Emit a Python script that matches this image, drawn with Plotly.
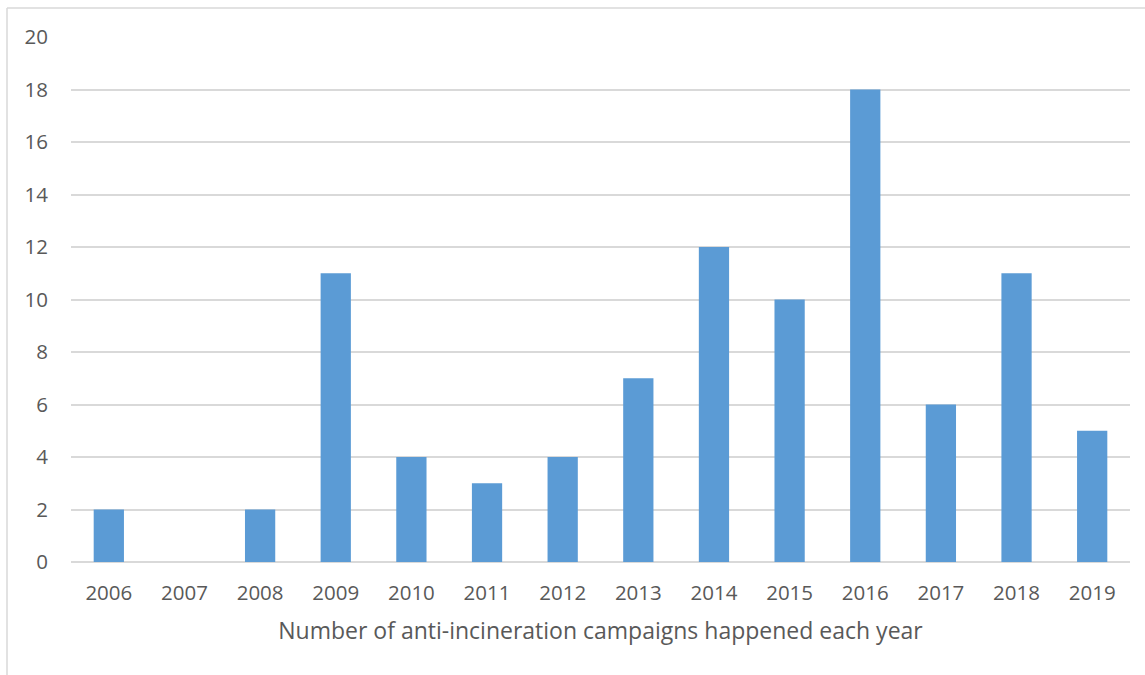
import plotly.graph_objects as go

years = ["2006", "2007", "2008", "2009", "2010", "2011", "2012",
         "2013", "2014", "2015", "2016", "2017", "2018", "2019"]
campaigns = [2, 0, 2, 11, 4, 3, 4, 7, 12, 10, 18, 6, 11, 5]

W, H = 1145, 675
L, R, T, B = 71, 15, 37, 113
pw, ph = W - L - R, H - T - B

fig = go.Figure(go.Bar(x=years, y=campaigns, marker=dict(color="#5b9bd5", line=dict(width=0))))

fig.update_layout(
    width=W, height=H,
    margin=dict(l=L, r=R, t=T, b=B, pad=0),
    paper_bgcolor="white", plot_bgcolor="white",
    bargap=0.6, showlegend=False,
    font=dict(family="Open Sans, Liberation Sans, sans-serif", color="#595959"),
    xaxis=dict(
        type="category", showgrid=False, zeroline=False, showline=False,
        ticks="", tickfont=dict(size=20.5), ticklabelstandoff=16,
        title=dict(text="Number of anti-incineration campaigns happened each year",
                   font=dict(size=23, color="#595959"), standoff=18),
    ),
    yaxis=dict(
        range=[0, 20], dtick=2, showgrid=True, gridcolor="#d9d9d9", gridwidth=1.5,
        zeroline=True, zerolinecolor="#d9d9d9", zerolinewidth=1.5, showline=False,
        ticks="", tickfont=dict(size=20.5), ticklabelstandoff=22,
    ),
    shapes=[
        dict(type="line", xref="paper", yref="paper",
             x0=(7 - L) / pw, x1=(W + 5 - L) / pw,
             y0=1 + (T - 8) / ph, y1=1 + (T - 8) / ph,
             line=dict(color="#d9d9d9", width=1.5)),
        dict(type="line", xref="paper", yref="paper",
             x0=(7 - L) / pw, x1=(7 - L) / pw,
             y0=1 + (T - 8) / ph, y1=-(H + 5 - T - ph) / ph,
             line=dict(color="#d9d9d9", width=1.5)),
    ],
)

fig.write_html("out.html")
